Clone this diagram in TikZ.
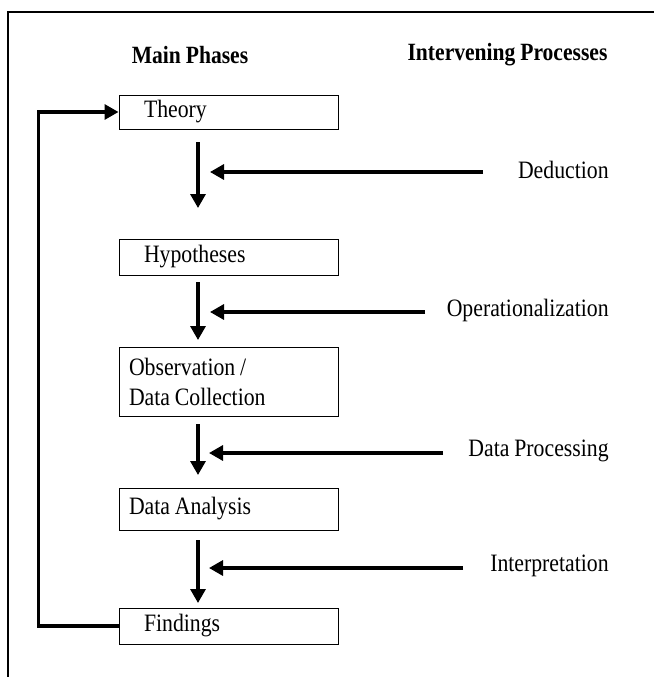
\documentclass[tikz,border=0pt]{standalone}
\usepackage{fontspec}
\setmainfont{Liberation Serif}[FakeStretch=0.87, WordSpace=0.9]
\usetikzlibrary{arrows.meta}

\tikzset{every picture/.style={line width=0.75pt}}
\tikzset{
  phase/.style={draw, line width=1pt, minimum width=219pt, align=flush left, font=\fontsize{25}{30}\selectfont, inner ysep=0pt},
  proc/.style={inner sep=0pt, font=\fontsize{25}{30}\selectfont},
  head/.style={inner sep=0pt, font=\fontsize{24.8}{30}\selectfont\bfseries},
  flow/.style={line width=3.2pt, -{Triangle[length=14pt,width=15pt]}}
}

\begin{document}
\begin{tikzpicture}[x=1pt,y=1pt,yscale=-1,xscale=1]
\useasboundingbox (0,0) rectangle (654,677);

%Frame
\draw [line width=1.3pt] (8,677) -- (8,12) -- (654,12) ;

% Text Node
\node [head] (mainhd) at (190,55) {Main Phases};
% Text Node
\node [head] (prochd) at (507.5,55) {Intervening Processes};

%Shape: Rectangle
\node [phase, minimum height=34pt, text width=169pt, inner xsep=25pt] (theory) at (228.5,112) {Theory};
%Shape: Rectangle
\node [phase, minimum height=36pt, text width=169pt, inner xsep=25pt] (hypo) at (228.5,257) {Hypotheses};
%Shape: Rectangle
\node [phase, minimum height=69pt, text width=199pt, inner xsep=10pt] (obs) at (228.5,381.5) {Observation /\\Data Collection};
%Shape: Rectangle
\node [phase, minimum height=42pt, text width=199pt, inner xsep=10pt] (anal) at (228.5,509) {Data Analysis};
%Shape: Rectangle
\node [phase, minimum height=36pt, text width=169pt, inner xsep=25pt] (find) at (228.5,626) {Findings};

% Text Node
\node [proc, anchor=east] (deduc) at (609,170) {Deduction};
% Text Node
\node [proc, anchor=east] (oper) at (609,310) {Operationalization};
% Text Node
\node [proc, anchor=east] (dproc) at (609,451) {Data Processing};
% Text Node
\node [proc, anchor=east] (interp) at (609,566) {Interpretation};

%Arrow ends
\coordinate (v1a) at (198,142);  \coordinate (v1b) at (198,208);
\coordinate (v2a) at (198,282);  \coordinate (v2b) at (198,340);
\coordinate (v3a) at (198,424);  \coordinate (v3b) at (198,475);
\coordinate (v4a) at (198,540);  \coordinate (v4b) at (198,603);
\coordinate (h1a) at (483,172);  \coordinate (h1b) at (210,172);
\coordinate (h2a) at (425,312);  \coordinate (h2b) at (210,312);
\coordinate (h3a) at (443,453);  \coordinate (h3b) at (209,453);
\coordinate (h4a) at (463,568);  \coordinate (h4b) at (209,568);

%Straight Lines
\draw [flow] (v1a) -- (v1b) ;
\draw [flow] (v2a) -- (v2b) ;
\draw [flow] (v3a) -- (v3b) ;
\draw [flow] (v4a) -- (v4b) ;
%Straight Lines
\draw [flow] (h1a) -- (h1b) ;
\draw [flow] (h2a) -- (h2b) ;
\draw [flow] (h3a) -- (h3b) ;
\draw [flow] (h4a) -- (h4b) ;

%Feedback loop
\draw [flow] (find.west) -- ++(-80,0) |- (theory.west) ;

\end{tikzpicture}
\end{document}
